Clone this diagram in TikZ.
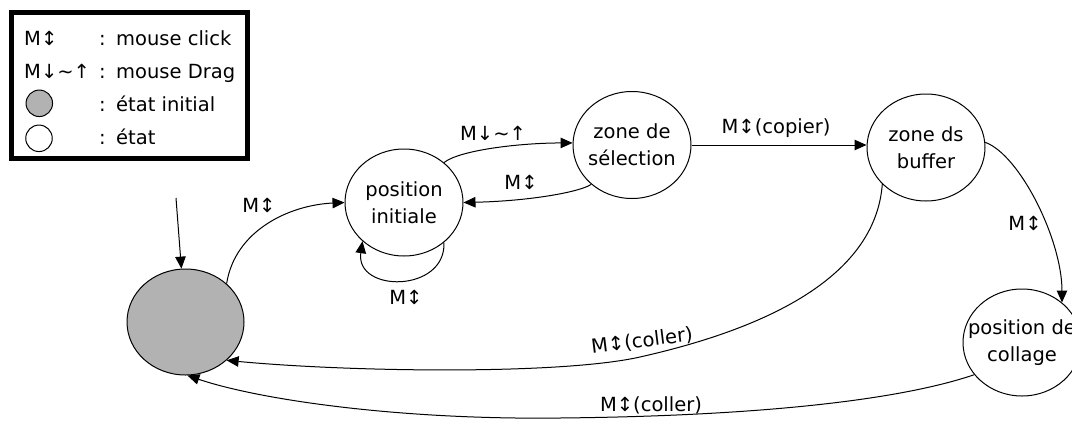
\documentclass[tikz,border=0pt]{standalone}
\usepackage{fontspec}
\setmainfont{DejaVu Sans}
\usetikzlibrary{shapes.geometric,arrows.meta}
\tikzset{
  txt/.style={font=\fontsize{19.5pt}{27pt}\selectfont, inner sep=0pt, align=center},
  state/.style={ellipse, draw, line width=1pt, minimum width=118pt, minimum height=107pt, inner sep=0pt},
  conn/.style={line width=1pt, -{Triangle[length=12pt,width=10.5pt]}},
  legcirc/.style={circle, draw, line width=1pt, minimum size=26.5pt, inner sep=0pt},
}
\begin{document}
\begin{tikzpicture}[x=1pt,y=-1pt]
\useasboundingbox (0,0) rectangle (1072,421);
% legend
\draw[line width=5pt] (11,12.5) rectangle (247.5,158);
\node[txt, anchor=base west] (lk1) at (24,45) {M↕};
\node[txt, anchor=base west] (lk2) at (24,78) {M↓∼↑};
\node[legcirc, fill=gray!60] (lc1) at (39.3,103.3) {};
\node[legcirc, fill=white] (lc2) at (39,138.3) {};
\node[txt, anchor=base] (lp1) at (102.5,45) {:};
\node[txt, anchor=base] (lp2) at (102.5,78) {:};
\node[txt, anchor=base] (lp3) at (102.5,111) {:};
\node[txt, anchor=base] (lp4) at (102.5,144) {:};
\node[txt, anchor=base west] (lt1) at (116,45) {mouse click};
\node[txt, anchor=base west] (lt2) at (116,78) {mouse Drag};
\node[txt, anchor=base west] (lt3) at (116,111) {état initial};
\node[txt, anchor=base west] (lt4) at (116,144) {état};
% states
\node[state, fill=gray!60, minimum width=117pt, minimum height=106pt] (grey) at (185.5,322) {};
\node[state, label={[txt]center:position\\initiale}] (posinit) at (404,202.5) {};
\node[state, label={[txt]center:zone de\\sélection}] (zonesel) at (632,145) {};
\node[state, label={[txt]center:zone ds\\buffer}] (buffer) at (926,147.5) {};
\node[state, label={[txt]center:position de\\collage}] (collage) at (1022,342.5) {};
% connectors
\coordinate (init) at (176,198);
\draw[conn] (init) -- (grey);
\draw[conn] (grey.43) .. controls (235,230) and (290,205) .. (posinit.west);
\draw[conn] (posinit.45) .. controls (460,150) and (520,143) .. (zonesel.178);
\draw[conn] (zonesel.224) .. controls (580,192) and (530,201) .. (posinit.east);
\draw[conn] (posinit.315) .. controls (446,293) and (355,293) .. (posinit.223);
\draw[conn] (zonesel.east) -- (zonesel.east -| buffer.west);
\draw[conn] (buffer.5) .. controls (1020,155) and (1062,240) .. (collage.45);
\draw[conn] (buffer.220) .. controls (875,280) and (760,330) .. (640,357)
  .. controls (560,375) and (350,372) .. (grey.317);
\draw[conn] (collage.214) .. controls (900,400) and (760,416) .. (560,418)
  .. controls (400,420) and (260,400) .. (grey.272);
% labels
\node[txt] (lab1) at (259,205) {M↕};
\node[txt] (lab2) at (493,133) {M↓∼↑};
\node[txt] (lab3) at (521,182) {M↕};
\node[txt] (lab4) at (406,297) {M↕};
\node[txt] (lab5) at (776,128) {M↕(copier)};
\node[txt] (lab6) at (1025,223) {M↕};
\node[txt, rotate=7] (lab7) at (642,341) {M↕(coller)};
\node[txt] (lab8) at (651,405) {M↕(coller)};
\end{tikzpicture}
\end{document}
